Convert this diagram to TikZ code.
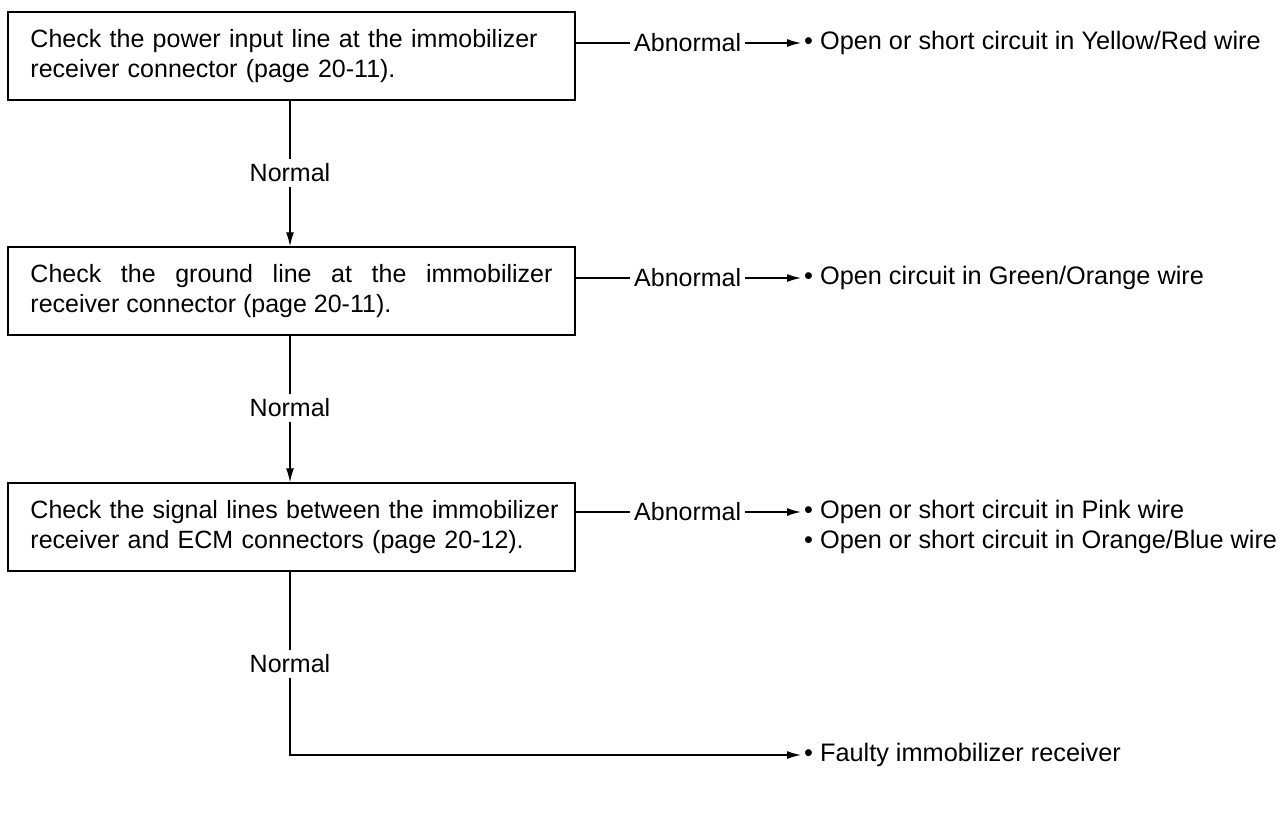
\documentclass[tikz,border=0pt]{standalone}
\usepackage{fontspec}
\setmainfont{Liberation Sans}
\usetikzlibrary{arrows.meta}
\begin{document}
\begin{tikzpicture}[x=1pt,y=-1pt,
  every node/.style={font=\fontsize{25}{30}\selectfont, inner sep=0pt},
  box/.style={draw, line width=1.5pt, minimum width=567pt, minimum height=88pt,
              text width=522pt, inner xsep=0pt},
  lbl/.style={inner xsep=4pt, inner ysep=5pt},
  res/.style={anchor=west, inner xsep=3pt, font=\fontsize{25.3}{30}\selectfont},
  conn/.style={line width=1.3pt},
  arr/.style={conn, -{Latex[length=14pt,width=8pt]}}]
\useasboundingbox (0,0) rectangle (1288,822);

\node[box, align=left]    (b1) at (291.5,56)  {\mbox{Check the power input line at the immobilizer}\\\mbox{receiver connector (page 20-11).}};
\node[box, align=justify] (b2) at (291.5,291) {Check the ground line at the immobilizer\linebreak receiver connector (page 20-11).};
\node[box, align=left]    (b3) at (291.5,527) {\mbox{Check the signal lines between the immobilizer}\\\mbox{receiver and ECM connectors (page 20-12).}};

\node[lbl] (n1) at (290,173) {Normal};
\node[lbl] (n2) at (290,408) {Normal};
\node[lbl] (n3) at (290,664) {Normal};

\node[lbl, anchor=west] (a1) at (630,43)  {Abnormal};
\node[lbl, anchor=west] (a2) at (630,278) {Abnormal};
\node[lbl, anchor=west] (a3) at (630,512) {Abnormal};

\node[res] (r1)  at (801,43)  {\textbullet\ Open or short circuit in Yellow/Red wire};
\node[res] (r2)  at (801,278) {\textbullet\ Open circuit in Green/Orange wire};
\node[res] (r3)  at (801,512) {\textbullet\ Open or short circuit in Pink wire};
\node[res] (r3b) at (801,542) {\textbullet\ Open or short circuit in Orange/Blue wire};
\node[res] (r4)  at (801,755) {\textbullet\ Faulty immobilizer receiver};

\coordinate (c4) at (289,755);

\draw[conn] (n1 |- b1.south) -- (n1.north);
\draw[arr]  (n1.south) -- (n1 |- b2.north);
\draw[conn] (n2 |- b2.south) -- (n2.north);
\draw[arr]  (n2.south) -- (n2 |- b3.north);
\draw[conn] (n3 |- b3.south) -- (n3.north);
\draw[arr]  (n3.south) -- (n3 |- c4) -- (r4.west);

\draw[conn] (b1.east |- a1) -- (a1.west);
\draw[arr]  (a1.east) -- (r1.west);
\draw[conn] (b2.east |- a2) -- (a2.west);
\draw[arr]  (a2.east) -- (r2.west);
\draw[conn] (b3.east |- a3) -- (a3.west);
\draw[arr]  (a3.east) -- (r3.west);
\end{tikzpicture}
\end{document}
